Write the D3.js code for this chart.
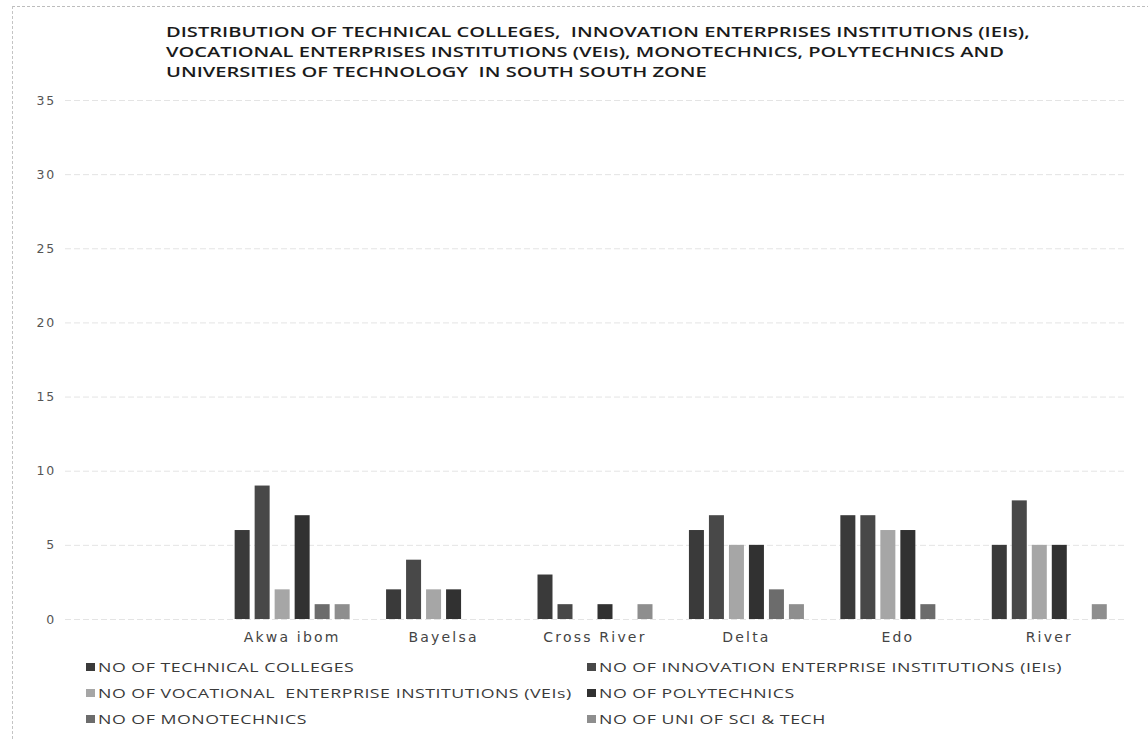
<!DOCTYPE html>
<html>
<head>
<meta charset="utf-8">
<script src="https://cdn.jsdelivr.net/npm/d3@7"></script>
<style>
  body { margin: 0; background: #fff; }
  svg { display: block; }
</style>
</head>
<body>
<div id="chart"></div>
<script>
// states (first slot is empty in the original chart)
const states = ['', 'Akwa ibom', 'Bayelsa', 'Cross River', 'Delta', 'Edo', 'River'];

const seriesNames = [
    'NO OF TECHNICAL COLLEGES',
    'NO OF INNOVATION ENTERPRISE INSTITUTIONS (IEIs)',
    'NO OF VOCATIONAL  ENTERPRISE INSTITUTIONS (VEIs)',
    'NO OF POLYTECHNICS',
    'NO OF MONOTECHNICS',
    'NO OF UNI OF SCI & TECH'
];

const technicalColleges = [null, 6, 2, 3, 6, 7, 5];
const innovationInst    = [null, 9, 4, 1, 7, 7, 8];
const vocationalInst    = [null, 2, 2, 0, 5, 6, 5];
const polytechnics      = [null, 7, 2, 1, 5, 6, 5];
const monotechnics      = [null, 1, 0, 0, 2, 1, 0];
const uniSciTech        = [null, 1, 0, 1, 1, 0, 1];

const yTicks = [0, 5, 10, 15, 20, 25, 30, 35];

const titleLines = [
    'DISTRIBUTION OF TECHNICAL COLLEGES,  INNOVATION ENTERPRISES INSTITUTIONS (IEIs),',
    'VOCATIONAL ENTERPRISES INSTITUTIONS (VEIs), MONOTECHNICS, POLYTECHNICS AND',
    'UNIVERSITIES OF TECHNOLOGY  IN SOUTH SOUTH ZONE'
];

const colors = ['#3a3a3a', '#484848', '#a6a6a6', '#313131', '#6c6c6c', '#8e8e8e'];

const seriesValues = [technicalColleges, innovationInst, vocationalInst, polytechnics, monotechnics, uniSciTech];

const width = 1148, height = 740;
const plot = { left: 65, right: 1125, top: 100, bottom: 619 };

const svg = d3.select('#chart').append('svg')
    .attr('width', width)
    .attr('height', height);

// scan frame lines
svg.append('line')
    .attr('x1', 12).attr('x2', width).attr('y1', 6.5).attr('y2', 6.5)
    .attr('stroke', '#bdbdbd').attr('stroke-dasharray', '3,2');
svg.append('line')
    .attr('x1', 12.5).attr('x2', 12.5).attr('y1', 6).attr('y2', height)
    .attr('stroke', '#c4c4c4').attr('stroke-dasharray', '3,2');

// title - the scanned original is stretched wide, so scale it horizontally
const titleG = svg.append('g');
const title = titleG.append('text')
    .attr('x', 0)
    .attr('y', 37)
    .style('font-family', '"Open Sans", sans-serif')
    .style('font-weight', 600)
    .style('font-size', '15px')
    .style('fill', '#1a1a1a');
title.selectAll('tspan')
    .data(titleLines)
    .enter().append('tspan')
    .attr('x', 0)
    .attr('dy', (d, i) => i === 0 ? 0 : 20)
    .style('white-space', 'pre')
    .text(d => d);
const firstLine = title.select('tspan').node().getComputedTextLength();
titleG.attr('transform', `translate(166,0) scale(${864 / firstLine},1)`);

// scales
const x0 = d3.scaleBand()
    .domain(states)
    .range([plot.left, plot.right])
    .padding(0);

const groupInset = (x0.bandwidth() - 120) / 2;
const x1 = d3.scaleBand()
    .domain(d3.range(seriesNames.length))
    .range([groupInset, groupInset + 120])
    .paddingInner(0.25)
    .paddingOuter(0.125);

const y = d3.scaleLinear()
    .domain([0, 35])
    .range([plot.bottom, plot.top]);

// gridlines
svg.append('g')
    .attr('class', 'grid')
    .selectAll('line')
    .data(yTicks)
    .enter().append('line')
    .attr('x1', plot.left)
    .attr('x2', plot.right)
    .attr('y1', d => y(d) + 0.5)
    .attr('y2', d => y(d) + 0.5)
    .attr('stroke', '#e4e4e4')
    .attr('stroke-dasharray', '6,3');

// y axis labels (no axis line in the original)
const yAxis = svg.append('g')
    .attr('transform', `translate(${plot.left - 9},0)`)
    .call(d3.axisLeft(y).tickValues(yTicks).tickSize(0).tickPadding(0));
yAxis.select('.domain').remove();
yAxis.selectAll('text')
    .style('font-family', '"DejaVu Sans", sans-serif')
    .style('font-size', '12.5px')
    .style('letter-spacing', '1.8px')
    .style('fill', '#555');

// x axis labels
const xAxis = svg.append('g')
    .attr('transform', `translate(0,${plot.bottom})`)
    .call(d3.axisBottom(x0).tickSize(0).tickPadding(13));
xAxis.select('.domain').remove();
xAxis.selectAll('text')
    .style('font-family', '"DejaVu Sans", sans-serif')
    .style('font-size', '14px')
    .style('letter-spacing', '2.2px')
    .style('fill', '#444');

// bars
const groups = svg.append('g')
    .selectAll('g')
    .data(states)
    .enter().append('g')
    .attr('transform', d => `translate(${x0(d)},0)`);

groups.selectAll('rect')
    .data((d, i) => seriesValues.map((vals, s) => ({ s: s, v: vals[i] })).filter(e => e.v))
    .enter().append('rect')
    .attr('x', d => x1(d.s))
    .attr('y', d => y(d.v))
    .attr('width', x1.bandwidth())
    .attr('height', d => y(0) - y(d.v))
    .attr('fill', d => colors[d.s]);

// legend, two columns
const legendCols = [86, 587];
const legendRows = [672, 698, 724];
const legend = svg.append('g')
    .selectAll('g')
    .data(seriesNames)
    .enter().append('g')
    .attr('transform', (d, i) => `translate(${legendCols[i % 2]},${legendRows[Math.floor(i / 2)]})`);

legend.append('rect')
    .attr('x', 0)
    .attr('y', -9)
    .attr('width', 9)
    .attr('height', 8)
    .attr('fill', (d, i) => colors[i]);

const legendText = legend.append('g')
    .append('text')
    .attr('x', 0)
    .attr('y', 0)
    .style('font-family', '"Open Sans", sans-serif')
    .style('font-size', '13.5px')
    .style('letter-spacing', '0.4px')
    .style('white-space', 'pre')
    .style('fill', '#3a3a3a')
    .text(d => d);

// stretch legend text so the VEIs label spans about 474px like the original
const veiLen = legendText.filter((d, i) => i === 2).node().getComputedTextLength();
legend.select('g').attr('transform', `translate(12,0) scale(${474 / veiLen},1)`);
</script>
</body>
</html>
